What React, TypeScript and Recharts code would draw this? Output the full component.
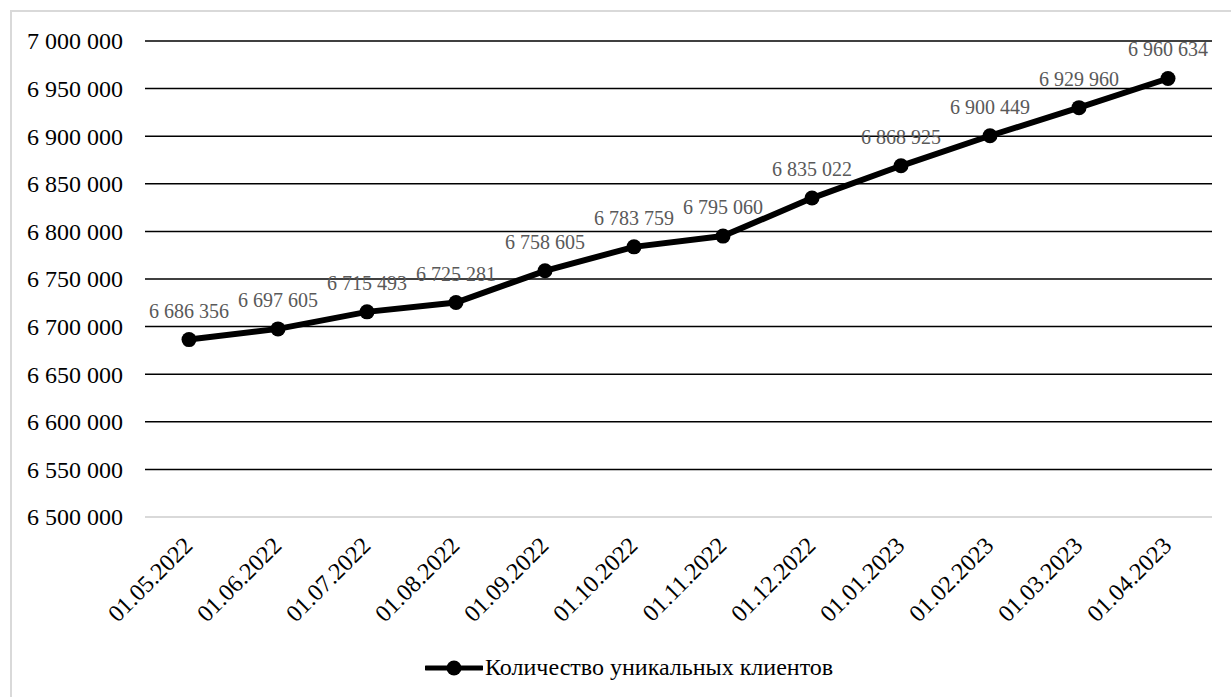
import * as React from "react";
import { CartesianGrid, LabelList, Legend, Line, LineChart, XAxis, YAxis } from "recharts";

const dates = [
  "01.05.2022",
  "01.06.2022",
  "01.07.2022",
  "01.08.2022",
  "01.09.2022",
  "01.10.2022",
  "01.11.2022",
  "01.12.2022",
  "01.01.2023",
  "01.02.2023",
  "01.03.2023",
  "01.04.2023",
];

const clients = [
  6686356, 6697605, 6715493, 6725281, 6758605, 6783759, 6795060, 6835022, 6868925, 6900449, 6929960, 6960634,
];

const yTicks = [
  6500000, 6550000, 6600000, 6650000, 6700000, 6750000, 6800000, 6850000, 6900000, 6950000, 7000000,
];

const SERIES_NAME = "Количество уникальных клиентов";
const FONT = "Liberation Serif, DejaVu Serif, serif";

const data = dates.map((d, i) => ({ date: d, value: clients[i] }));

// digit groups split by spaces, like "6 686 356"
const fmt = (n: number) => String(Math.round(n)).replace(/\B(?=(\d{3})+(?!\d))/g, " ");

const DateTick = (props: any) => {
  const { x, y, payload } = props;
  return (
    <g transform={`translate(${x + 5},${y + 22})`}>
      <text x={0} y={0} textAnchor="end" transform="rotate(-45)" style={{ fill: "#000", fontSize: 24, fontFamily: FONT }}>
        {payload.value}
      </text>
    </g>
  );
};

const ValueTick = (props: any) => {
  const { x, y, payload } = props;
  return (
    <text x={x} y={y} dy="0.35em" textAnchor="end" style={{ fill: "#000", fontSize: 24, fontFamily: FONT }}>
      {fmt(payload.value)}
    </text>
  );
};

const LegendContent = () => (
  <div style={{ display: "flex", alignItems: "center", fontFamily: FONT, fontSize: 24, color: "#000" }}>
    <svg width={58} height={16} style={{ marginRight: 2 }}>
      <line x1={1} y1={8} x2={57} y2={8} stroke="#000" strokeWidth={5} strokeLinecap="round" />
      <circle cx={29} cy={8} r={7.5} fill="#000" />
    </svg>
    <span>{SERIES_NAME}</span>
  </div>
);

export default function App() {
  return (
    <div
      style={{
        position: "absolute",
        left: 0,
        top: 0,
        width: 1231,
        height: 697,
        background: "#fff",
        overflow: "hidden",
        fontFamily: FONT,
      }}
    >
      <div
        style={{
          position: "absolute",
          left: 10,
          top: 10,
          width: 1300,
          height: 800,
          borderLeft: "2px solid #d9d9d9",
          borderTop: "2px solid #d9d9d9",
        }}
      />
      <LineChart
        width={1231}
        height={697}
        data={data}
        margin={{ top: 41, right: 19, left: 0, bottom: 33 }}
        style={{ position: "absolute", left: 0, top: 0 }}
      >
        <CartesianGrid vertical={false} stroke="#000" strokeWidth={1.5} />
        <XAxis
          dataKey="date"
          interval={0}
          padding={{ left: 44, right: 44 }}
          height={120}
          tick={<DateTick />}
          tickLine={false}
          axisLine={{ stroke: "#d9d9d9", strokeWidth: 2 }}
        />
        <YAxis
          domain={[6500000, 7000000]}
          ticks={yTicks}
          width={145}
          tickSize={0}
          tickMargin={22}
          tick={<ValueTick />}
          axisLine={false}
          tickLine={false}
        />
        <Legend content={<LegendContent />} wrapperStyle={{ position: "absolute", left: 425, top: 654, width: "auto" }} />
        <Line
          type="linear"
          dataKey="value"
          name={SERIES_NAME}
          stroke="#000"
          strokeWidth={6}
          dot={{ r: 7.5, fill: "#000", stroke: "#000", strokeWidth: 0 }}
          activeDot={false}
          isAnimationActive={false}
        >
          <LabelList
            dataKey="value"
            position="top"
            offset={22}
            formatter={(v: any) => fmt(Number(v))}
            style={{ fill: "#595959", fontSize: 20, fontFamily: FONT }}
          />
        </Line>
      </LineChart>
    </div>
  );
}
